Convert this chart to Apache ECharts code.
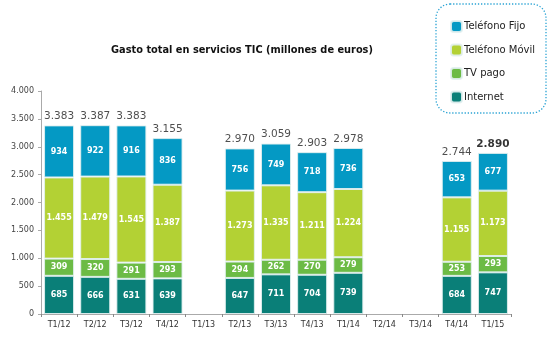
<!DOCTYPE html>
<html>
<head>
<meta charset="utf-8">
<script src="https://cdn.jsdelivr.net/npm/echarts@6/dist/echarts.min.js"></script>
<style>
  html, body { margin: 0; padding: 0; background: #fff; }
  #chart { width: 560px; height: 352px; }
</style>
</head>
<body>
<div id="chart"></div>
<script>
// trimestres
const categories = ['T1/12','T2/12','T3/12','T4/12','T1/13','T2/13','T3/13','T4/13','T1/14','T2/14','T3/14','T4/14','T1/15'];
// millones de euros, null = sin dato
const internet = [685, 666, 631, 639, null, 647, 711, 704, 739, null, null, 684, 747];
const tvPago   = [309, 320, 291, 293, null, 294, 262, 270, 279, null, null, 253, 293];
const movil    = [1455, 1479, 1545, 1387, null, 1273, 1335, 1211, 1224, null, null, 1155, 1173];
const fijo     = [934, 922, 916, 836, null, 756, 749, 718, 736, null, null, 653, 677];
const totals   = [3383, 3387, 3383, 3155, null, 2970, 3059, 2903, 2978, null, null, 2744, 2890];
const yTicks   = [0, 500, 1000, 1500, 2000, 2500, 3000, 3500, 4000];

const fmt = v => String(v).replace(/\B(?=(\d{3})+(?!\d))/g, '.');
const font = 'DejaVu Sans, Verdana, sans-serif';

const chart = echarts.init(document.getElementById('chart'));

const barSeries = (name, data, color) => ({
    name: name,
    type: 'bar',
    stack: 'total',
    data: data,
    barWidth: 30,
    itemStyle: {
        color: color,
        borderColor: 'rgba(225,240,240,0.9)',
        borderWidth: 1
    },
    label: {
        show: true,
        position: 'inside',
        color: '#ffffff',
        fontFamily: font,
        fontWeight: 'bold',
        fontSize: 8,
        formatter: p => fmt(p.value)
    }
});

chart.setOption({
    animation: false,
    title: {
        text: 'Gasto total en servicios TIC (millones de euros)',
        left: 237,
        textAlign: 'center',
        top: 40,
        textStyle: { fontFamily: font, fontWeight: 'bold', fontSize: 9.8, color: '#111' }
    },
    legend: {
        orient: 'vertical',
        left: 445,
        top: 15,
        itemWidth: 11,
        itemHeight: 11,
        itemGap: 10.5,
        data: ['Teléfono Fijo', 'Teléfono Móvil', 'TV pago', 'Internet'],
        textStyle: { fontFamily: font, fontSize: 10, color: '#222', padding: [0, 0, 0, -3] }
    },
    graphic: [{
        type: 'rect',
        shape: { x: 436, y: 4, width: 110, height: 109, r: 14 },
        style: { fill: 'none', stroke: '#2aa3d4', lineWidth: 1.3, lineDash: [1.3, 1.8] },
        silent: true
    }],
    grid: { left: 41, right: 49, top: 91, bottom: 38 },
    xAxis: {
        type: 'category',
        data: categories,
        axisLine: { lineStyle: { color: '#aaa' } },
        axisTick: { show: true, interval: 0, length: 3, lineStyle: { color: '#888' } },
        axisLabel: { fontFamily: font, fontSize: 8, color: '#333', interval: 0, margin: 7 }
    },
    yAxis: {
        type: 'value',
        min: 0,
        max: 4000,
        interval: 500,
        splitLine: { show: false },
        axisLine: { show: true, lineStyle: { color: '#aaa' } },
        axisTick: { show: true, length: 3, lineStyle: { color: '#aaa' } },
        axisLabel: {
            fontFamily: font, fontSize: 8, color: '#444', margin: 7,
            formatter: v => yTicks.includes(v) ? fmt(v) : ''
        }
    },
    series: [
        barSeries('Internet', internet, '#0a7f78'),
        barSeries('TV pago', tvPago, '#6cbb45'),
        barSeries('Teléfono Móvil', movil, '#b3d134'),
        barSeries('Teléfono Fijo', fijo, '#0499c4'),
        {
            name: 'Total',
            type: 'scatter',
            data: totals.map((v, i) => ({
                value: v,
                label: i === totals.length - 1 ? { fontWeight: 'bold', color: '#000' } : {}
            })),
            symbolSize: 1,
            itemStyle: { color: 'rgba(255,255,255,0)' },
            label: {
                show: true,
                position: 'top',
                distance: 3,
                color: '#222',
                fontFamily: font,
                fontSize: 10.5,
                formatter: p => fmt(p.value)
            },
            tooltip: { show: false }
        }
    ]
});
</script>
</body>
</html>
